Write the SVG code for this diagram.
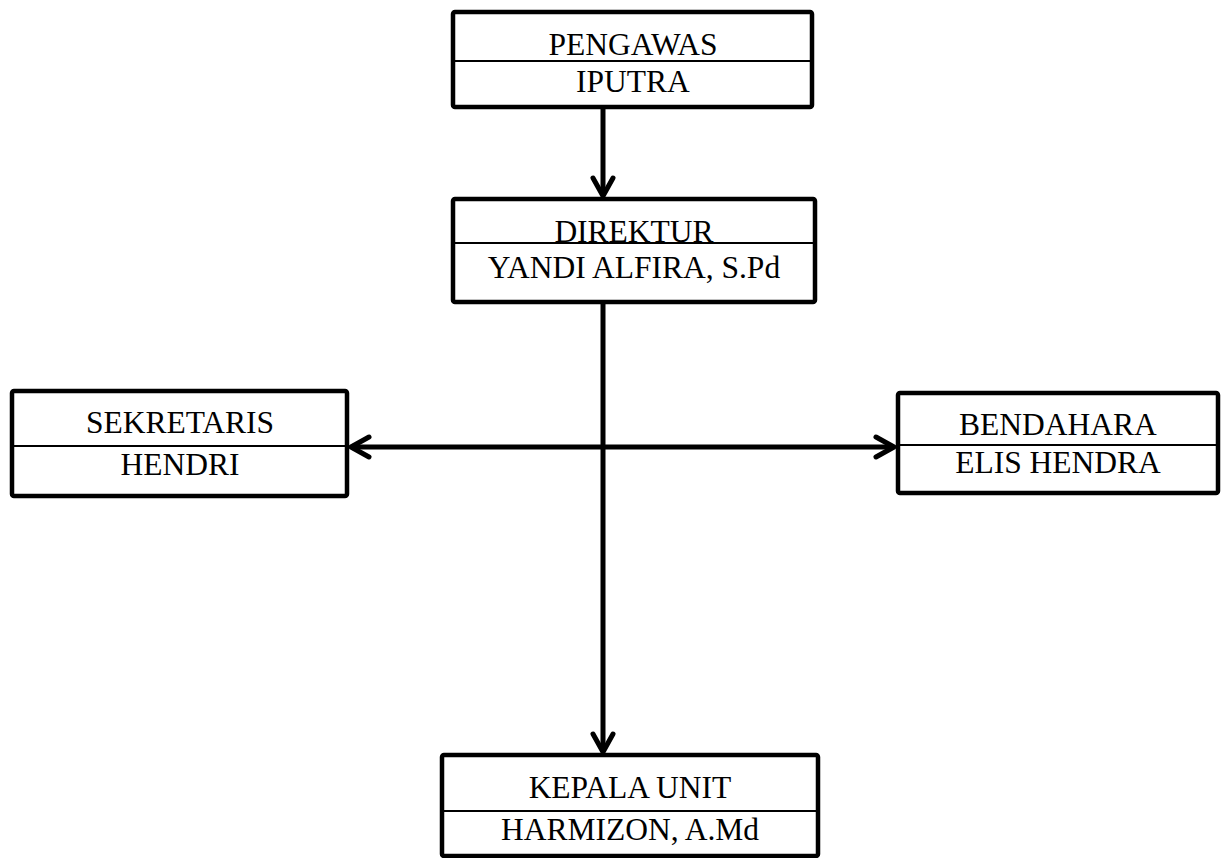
<svg xmlns="http://www.w3.org/2000/svg" width="1222" height="858" viewBox="0 0 1222 858">
<style>
.box{fill:#fff;stroke:#000;stroke-width:4.5;}
.div{stroke:#000;stroke-width:1.8;}
.t{font-family:"Liberation Serif","Times New Roman",serif;font-size:31.5px;fill:#000;text-anchor:middle;}
.con{stroke:#000;stroke-width:5;fill:none;}
.head{stroke:#000;stroke-width:5;fill:none;stroke-linecap:round;stroke-linejoin:round;}
</style>
<rect width="1222" height="858" fill="#fff"/>
<g id="connectors">
<line class="con" x1="603" y1="107" x2="603" y2="196"/>
<polyline class="head" points="593,178 603,196 613,178"/>
<line class="con" x1="603" y1="302" x2="603" y2="752"/>
<polyline class="head" points="593,734 603,752 613,734"/>
<line class="con" x1="351" y1="447" x2="894" y2="447"/>
<polyline class="head" points="369,437 351,447 369,457"/>
<polyline class="head" points="876,437 894,447 876,457"/>
</g>
<g id="pengawas">
<rect class="box" x="453" y="12" width="359" height="95" rx="2"/>
<line class="div" x1="453" y1="61" x2="812" y2="61"/>
<text class="t" x="633" y="55">PENGAWAS</text>
<text class="t" x="633" y="92">IPUTRA</text>
</g>
<g id="direktur">
<rect class="box" x="453" y="199" width="362" height="103" rx="2"/>
<line class="div" x1="453" y1="243" x2="815" y2="243"/>
<text class="t" x="634" y="242">DIREKTUR</text>
<text class="t" x="634" y="278">YANDI ALFIRA, S.Pd</text>
</g>
<g id="sekretaris">
<rect class="box" x="12" y="391" width="335" height="105" rx="2"/>
<line class="div" x1="12" y1="446" x2="347" y2="446"/>
<text class="t" x="180" y="433">SEKRETARIS</text>
<text class="t" x="180" y="475">HENDRI</text>
</g>
<g id="bendahara">
<rect class="box" x="898" y="393" width="320" height="100" rx="2"/>
<line class="div" x1="898" y1="445" x2="1218" y2="445"/>
<text class="t" x="1058" y="435">BENDAHARA</text>
<text class="t" x="1058" y="473">ELIS HENDRA</text>
</g>
<g id="kepala-unit">
<rect class="box" x="442" y="755" width="376" height="101" rx="2"/>
<line class="div" x1="442" y1="811" x2="818" y2="811"/>
<text class="t" x="630" y="798">KEPALA UNIT</text>
<text class="t" x="630" y="840">HARMIZON, A.Md</text>
</g>
</svg>
